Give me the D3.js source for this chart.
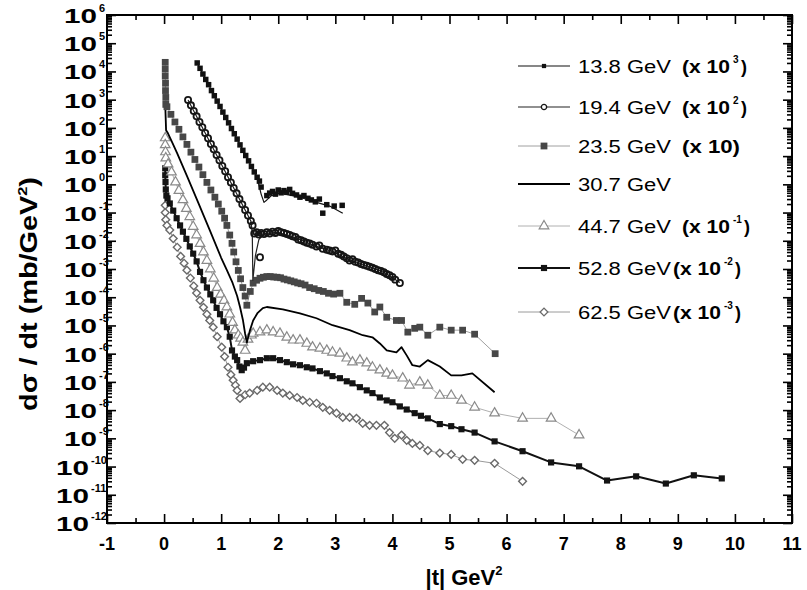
<!DOCTYPE html>
<html><head><meta charset="utf-8">
<script src="https://cdn.jsdelivr.net/npm/d3@7"></script>
<style>body{margin:0;background:#fff}</style>
</head><body>
<svg id="c" width="807" height="590"></svg>
<script>
// ---------- DATA ----------
const xTicks = [-1,0,1,2,3,4,5,6,7,8,9,10,11];
const yExponents = [6,5,4,3,2,1,0,-1,-2,-3,-4,-5,-6,-7,-8,-9,-10,-11,-12];

const legendNames = ["13.8 GeV","19.4 GeV","23.5 GeV","30.7 GeV","44.7 GeV","52.8 GeV","62.5 GeV"];
const legendFactors = ["(x 10","(x 10","(x 10)","","(x 10","(x 10","(x 10"];
const legendExps = ["3","2","","","-1","-2","-3"];

// 13.8 GeV (x10^3) points
const s138 = [[0.58,2.0e4],[0.63,1.29e4],[0.68,8.1e3],[0.73,5.2e3],[0.78,3.4e3],[0.83,2.1e3],[0.88,1.38e3],[0.93,890],[0.98,575],[1.03,363],[1.08,234],[1.13,151],[1.18,95],[1.23,62],[1.28,40],[1.33,25],[1.38,16],[1.43,10.5],[1.48,6.8],[1.53,4.3],[1.58,2.75],[1.63,1.78],[1.67,1.3],[1.70,0.8],[1.80,0.4],[1.85,0.49],[1.90,0.56],[1.95,0.45],[2.00,0.63],[2.05,0.5],[2.10,0.6],[2.15,0.52],[2.20,0.66],[2.25,0.48],[2.32,0.42],[2.38,0.35],[2.45,0.4],[2.52,0.32],[2.58,0.28],[2.65,0.24],[2.72,0.3],[2.78,0.095],[2.85,0.19],[2.98,0.17],[3.12,0.18]];
const s138Fit = [[0.58,2.0e4],[1.63,1.78],[1.70,0.45],[1.75,0.23],[1.80,0.28],[1.88,0.4],[2.03,0.49],[2.38,0.35],[2.67,0.23],[2.9,0.17],[3.13,0.095]];

// 19.4 GeV (x10^2)
const s194 = [[0.42,980],[0.47,630],[0.52,400],[0.57,257],[0.62,162],[0.67,105],[0.72,66],[0.77,43],[0.82,27],[0.87,17.4],[0.92,11],[0.97,7.1],[1.02,4.5],[1.07,2.9],[1.12,1.8],[1.17,1.17],[1.22,0.74],[1.27,0.48],[1.32,0.30],[1.37,0.195],[1.42,0.123],[1.47,0.079],[1.52,0.05],[1.55,0.035],[1.58,0.018],[1.62,0.02],[1.66,0.0166],[1.68,0.0026],[1.70,0.019],[1.75,0.0174],[1.80,0.02],[1.85,0.018],[1.90,0.021],[1.95,0.019],[2.00,0.022],[2.05,0.02],[2.10,0.019],[2.15,0.0174],[2.20,0.016],[2.25,0.0145],[2.30,0.0135],[2.35,0.011],[2.40,0.0105],[2.45,0.0095],[2.50,0.0085],[2.55,0.008],[2.60,0.0072],[2.67,0.0063],[2.72,0.0068],[2.78,0.0052],[2.85,0.0048],[2.90,0.0045],[2.95,0.0042],[3.00,0.0045],[3.05,0.0035],[3.10,0.0032],[3.15,0.0028],[3.20,0.0024],[3.25,0.002],[3.30,0.0022],[3.35,0.0018],[3.40,0.0017],[3.45,0.0015],[3.50,0.0014],[3.55,0.0013],[3.60,0.0012],[3.65,0.0011],[3.70,0.001],[3.75,9e-4],[3.80,8.5e-4],[3.85,7.6e-4],[3.90,6.6e-4],[3.95,6.0e-4],[4.00,5.2e-4],[4.05,4.2e-4],[4.13,3.2e-4]];
const s194Fit = [[0.42,980],[1.52,0.05],[1.545,0.02],[1.555,4e-4],[1.60,3e-3],[1.66,0.011],[1.75,0.018],[2.0,0.02],[2.38,0.011],[2.67,0.0063],[2.95,0.0042],[3.25,0.0021],[3.55,0.0013],[3.85,7.6e-4],[4.13,3.3e-4]];

// 23.5 GeV (x10)
const s235 = [[0.02,2.1e4],[0.02,1.2e4],[0.02,6.8e3],[0.025,3.8e3],[0.025,2.1e3],[0.03,1.2e3],[0.03,680],[0.05,562],[0.12,302],[0.19,162],[0.26,89],[0.33,48],[0.40,26],[0.47,13.8],[0.54,7.6],[0.61,4.1],[0.68,2.2],[0.75,1.17],[0.82,0.63],[0.89,0.35],[0.95,0.2],[1.01,0.112],[1.06,0.063],[1.10,0.035],[1.15,0.016],[1.19,0.0081],[1.22,0.004],[1.26,0.0018],[1.30,8.9e-4],[1.34,4.5e-4],[1.38,2.2e-4],[1.42,1.1e-4],[1.45,5.2e-5],[1.51,1.6e-4],[1.56,3.16e-4],[1.62,4.0e-4],[1.68,4.7e-4],[1.74,5.1e-4],[1.80,5.4e-4],[1.86,5.4e-4],[1.92,5.2e-4],[1.98,5.1e-4],[2.04,4.9e-4],[2.10,4.4e-4],[2.16,4.1e-4],[2.22,3.8e-4],[2.28,3.5e-4],[2.34,3.2e-4],[2.40,3.0e-4],[2.47,2.7e-4],[2.55,2.2e-4],[2.63,2.0e-4],[2.71,1.74e-4],[2.79,1.6e-4],[2.88,1.38e-4],[2.97,1.29e-4],[3.08,1.38e-4],[3.20,6.6e-5],[3.34,5.6e-5],[3.46,9.1e-5],[3.57,6.2e-5],[3.69,3.0e-5],[3.78,4.5e-5],[3.90,1.95e-5],[4.07,1.5e-5],[4.16,1.5e-5],[4.27,5.8e-6],[4.39,7.9e-6],[4.48,8.7e-6],[4.62,4.5e-6],[4.83,8.7e-6],[5.03,6.8e-6],[5.23,6.8e-6],[5.44,4.9e-6],[5.80,1.0e-6]];

// 30.7 GeV
const s307 = [[0.02,710],[0.035,83],[0.07,63],[0.15,28],[0.23,12.6],[0.4,2.0],[0.6,0.22],[0.8,0.024],[1.0,2.5e-3],[1.1,9.1e-4],[1.2,3.2e-4],[1.28,1.1e-4],[1.33,4.5e-5],[1.38,1.6e-5],[1.42,5e-6],[1.45,2.5e-6],[1.50,6.3e-6],[1.56,1.5e-5],[1.64,2.8e-5],[1.73,4.1e-5],[1.80,4.5e-5],[2.08,3.7e-5],[2.38,2.7e-5],[2.67,1.8e-5],[2.95,1.02e-5],[3.25,6.8e-6],[3.48,4.5e-6],[3.65,3.8e-6],[3.78,2.3e-6],[3.90,1.3e-6],[4.07,1.12e-6],[4.16,1.7e-6],[4.25,8.7e-7],[4.35,3.9e-7],[4.48,3.5e-7],[4.62,5.9e-7],[4.83,3.5e-7],[5.03,1.7e-7],[5.21,1.7e-7],[5.40,2.0e-7],[5.79,4.3e-8]];

// 44.7 GeV (x10^-1)
const s447 = [[0.02,44],[0.02,25],[0.025,14],[0.03,8.5],[0.07,5.2],[0.13,2.7],[0.20,1.2],[0.26,0.6],[0.33,0.28],[0.39,0.138],[0.45,0.071],[0.51,0.032],[0.57,0.016],[0.63,7.9e-3],[0.69,4.0e-3],[0.75,2.0e-3],[0.81,1.0e-3],[0.87,4.7e-4],[0.93,2.2e-4],[0.99,1.26e-4],[1.05,7.6e-5],[1.10,4.5e-5],[1.15,2.5e-5],[1.20,1.26e-5],[1.24,6.8e-6],[1.30,4.5e-6],[1.34,3.5e-6],[1.38,2.5e-6],[1.42,1.3e-6],[1.47,3.2e-6],[1.53,4.5e-6],[1.56,5.2e-6],[1.68,5.8e-6],[1.80,6.8e-6],[1.91,5.8e-6],[2.03,5.2e-6],[2.15,3.8e-6],[2.26,3.0e-6],[2.38,3.0e-6],[2.50,2.3e-6],[2.60,1.7e-6],[2.73,1.55e-6],[2.85,1.3e-6],[2.95,1.12e-6],[3.08,1.02e-6],[3.20,6.9e-7],[3.30,5.0e-7],[3.43,5.9e-7],[3.55,4.6e-7],[3.65,3.3e-7],[3.78,2.6e-7],[3.90,2.0e-7],[4.00,1.7e-7],[4.18,1.35e-7],[4.30,7.6e-8],[4.48,9.8e-8],[4.62,7.6e-8],[4.83,3.3e-8],[5.03,3.3e-8],[5.21,2.2e-8],[5.44,1.26e-8],[5.79,7.8e-9],[6.28,5.1e-9],[6.78,5.1e-9],[7.27,1.3e-9]];

// 52.8 GeV (x10^-2)
const s528 = [[0.02,3.7],[0.02,2.1],[0.025,1.2],[0.03,0.66],[0.04,0.4],[0.06,0.32],[0.10,0.21],[0.16,0.117],[0.22,0.063],[0.28,0.035],[0.33,0.021],[0.39,0.0117],[0.45,6.3e-3],[0.51,3.5e-3],[0.57,1.86e-3],[0.63,7.9e-4],[0.69,4.0e-4],[0.75,2.2e-4],[0.81,1.26e-4],[0.86,7.8e-5],[0.92,4.2e-5],[0.98,2.5e-5],[1.04,1.4e-5],[1.10,8.7e-6],[1.15,4.0e-6],[1.19,1.3e-6],[1.24,7.9e-7],[1.28,5.9e-7],[1.32,3.5e-7],[1.36,2.6e-7],[1.40,3.2e-7],[1.45,4.6e-7],[1.56,5.4e-7],[1.68,5.9e-7],[1.80,6.9e-7],[1.91,6.9e-7],[2.03,5.9e-7],[2.15,5.0e-7],[2.26,4.2e-7],[2.38,3.9e-7],[2.50,3.3e-7],[2.60,3.0e-7],[2.73,2.4e-7],[2.85,2.0e-7],[2.95,1.6e-7],[3.08,1.35e-7],[3.20,1.05e-7],[3.30,8.9e-8],[3.43,6.5e-8],[3.55,5.0e-8],[3.65,4.0e-8],[3.78,2.8e-8],[3.90,2.2e-8],[4.00,1.9e-8],[4.13,1.35e-8],[4.25,1.05e-8],[4.39,7.8e-9],[4.50,6.3e-9],[4.62,5.1e-9],[4.83,3.2e-9],[5.03,2.7e-9],[5.21,2.1e-9],[5.44,1.6e-9],[5.79,7.8e-10],[6.28,3.5e-10],[6.78,1.4e-10],[7.27,1.02e-10],[7.76,3.2e-11],[8.27,4.5e-11],[8.79,2.5e-11],[9.28,4.9e-11],[9.77,3.8e-11]];

// 62.5 GeV (x10^-3)
const s625 = [[0.02,0.18],[0.02,0.1],[0.03,0.056],[0.05,0.035],[0.10,0.024],[0.16,0.012],[0.23,5.9e-3],[0.29,2.8e-3],[0.35,1.6e-3],[0.40,9.1e-4],[0.46,4.8e-4],[0.52,2.5e-4],[0.57,1.4e-4],[0.63,7.8e-5],[0.69,4.4e-5],[0.75,2.5e-5],[0.80,1.5e-5],[0.86,8.7e-6],[0.93,4.0e-6],[1.01,1.7e-6],[1.06,7.9e-7],[1.12,3.3e-7],[1.17,1.8e-7],[1.21,1.15e-7],[1.25,7.6e-8],[1.28,5.0e-8],[1.33,2.6e-8],[1.42,3.5e-8],[1.50,4.0e-8],[1.63,5.0e-8],[1.73,6.5e-8],[1.85,6.5e-8],[1.98,5.0e-8],[2.08,4.0e-8],[2.20,3.3e-8],[2.33,2.8e-8],[2.43,2.2e-8],[2.55,1.9e-8],[2.67,1.75e-8],[2.78,1.26e-8],[2.90,9.8e-9],[3.02,7.8e-9],[3.13,5.5e-9],[3.25,5.5e-9],[3.37,5.1e-9],[3.48,3.4e-9],[3.60,2.9e-9],[3.72,2.9e-9],[3.86,2.9e-9],[3.95,1.6e-9],[4.04,1.0e-9],[4.16,1.3e-9],[4.25,8.5e-10],[4.35,6.6e-10],[4.48,5.6e-10],[4.62,3.7e-10],[4.83,3.0e-10],[5.03,2.7e-10],[5.23,1.8e-10],[5.44,1.66e-10],[5.79,1.3e-10],[6.28,3.0e-11]];

// ---------- CHART ----------
const L = 107, R = 792, T = 15, B = 523;
const FONT = "'Liberation Sans', Arial, sans-serif";
const x = d3.scaleLinear().domain([-1, 11]).range([L, R]);
const y = d3.scaleLog().domain([1e-12, 1e6]).range([B, T]);
const svg = d3.select('#c');
svg.append('rect').attr('width',807).attr('height',590).attr('fill','#fff');

const clipId = 'plotclip';
svg.append('clipPath').attr('id', clipId).append('rect').attr('x',L).attr('y',T).attr('width',R-L).attr('height',B-T);
const plot = svg.append('g').attr('clip-path', `url(#${clipId})`);

const line = d3.line().x(d => x(d[0])).y(d => y(d[1]));

const sym = {
  square: (s) => d3.symbol().type(d3.symbolSquare).size(s)(),
  circle: (s) => d3.symbol().type(d3.symbolCircle).size(s)(),
  triangle: (s) => d3.symbol().type(d3.symbolTriangle).size(s)(),
  diamond: (s) => d3.symbol().type(d3.symbolSquare).size(s)()
};

const series = [
  {data: s625, lineColor:'#9a9a9a', lineW:1, marker:'diamond', size:30, rot:45, fill:'#fff', stroke:'#6a6a6a', sw:1.4},
  {data: s528, lineColor:'#111', lineW:2, marker:'square', size:38, fill:'#141414', stroke:'none', sw:0},
  {data: s447, lineColor:'#b0b0b0', lineW:1, marker:'triangle', size:40, fill:'#fff', stroke:'#8a8a8a', sw:1.2},
  {data: s307, lineColor:'#000', lineW:1.8, marker:null},
  {data: s235, lineColor:'#a0a0a0', lineW:1, marker:'square', size:46, fill:'#474747', stroke:'none', sw:0},
  {data: s194, fit: s194Fit, lineColor:'#222', lineW:1.2, marker:'circle', size:30, fill:'none', stroke:'#151515', sw:1.8},
  {data: s138, fit: s138Fit, lineColor:'#111', lineW:1.2, marker:'square', size:30, fill:'#111', stroke:'none', sw:0}
];

series.forEach(s => {
  const lineData = s.fit ? s.fit : s.data;
  plot.append('path').datum(lineData).attr('d', line)
    .attr('fill','none').attr('stroke', s.lineColor).attr('stroke-width', s.lineW).attr('stroke-linejoin','round');
  if (s.marker) {
    plot.append('g').selectAll('path').data(s.data).join('path')
      .attr('d', sym[s.marker](s.size))
      .attr('transform', d => `translate(${x(d[0])},${y(d[1])})` + (s.rot ? ` rotate(${s.rot})` : ''))
      .attr('fill', s.fill).attr('stroke', s.stroke).attr('stroke-width', s.sw);
  }
});

// ---------- AXES ----------
const noDomain = g => g.select('.domain').remove();
const minorX = d3.range(-0.5, 11, 1);
const majorY = yExponents.map(e => Math.pow(10, e));
const minorY = [];
for (let e = -12; e < 6; e++) for (let m = 2; m <= 9; m++) minorY.push(m * Math.pow(10, e));

function styleTicks(g){ g.selectAll('line').attr('stroke','#000').attr('stroke-width',1.6); }

svg.append('g').attr('transform',`translate(0,${B})`)
  .call(d3.axisBottom(x).tickValues(xTicks).tickSize(-9).tickFormat('')).call(noDomain).call(styleTicks);
svg.append('g').attr('transform',`translate(0,${B})`)
  .call(d3.axisBottom(x).tickValues(minorX).tickSize(-5).tickFormat('')).call(noDomain).call(styleTicks);
svg.append('g').attr('transform',`translate(0,${T})`)
  .call(d3.axisTop(x).tickValues(xTicks).tickSize(-9).tickFormat('')).call(noDomain).call(styleTicks);
svg.append('g').attr('transform',`translate(0,${T})`)
  .call(d3.axisTop(x).tickValues(minorX).tickSize(-5).tickFormat('')).call(noDomain).call(styleTicks);
svg.append('g').attr('transform',`translate(${L},0)`)
  .call(d3.axisLeft(y).tickValues(majorY).tickSize(-9).tickFormat('')).call(noDomain).call(styleTicks);
svg.append('g').attr('transform',`translate(${L},0)`)
  .call(d3.axisLeft(y).tickValues(minorY).tickSize(-5).tickFormat('')).call(noDomain).call(styleTicks);
svg.append('g').attr('transform',`translate(${R},0)`)
  .call(d3.axisRight(y).tickValues(majorY).tickSize(-9).tickFormat('')).call(noDomain).call(styleTicks);
svg.append('g').attr('transform',`translate(${R},0)`)
  .call(d3.axisRight(y).tickValues(minorY).tickSize(-5).tickFormat('')).call(noDomain).call(styleTicks);

svg.append('rect').attr('x',L).attr('y',T).attr('width',R-L).attr('height',B-T)
  .attr('fill','none').attr('stroke','#000').attr('stroke-width',2);

// x tick labels
svg.append('g').selectAll('text').data(xTicks).join('text')
  .attr('x', d => x(d)).attr('y', B + 27).attr('text-anchor','middle')
  .attr('font-family', FONT).attr('font-weight','bold').attr('font-size', 18)
  .text(d => String(d));

// y tick labels
const yl = svg.append('g').attr('font-family', FONT).attr('font-weight','bold').attr('fill','#000');
yExponents.forEach(e => {
  const ys = y(Math.pow(10, e));
  const es = String(e);
  const right = es.length >= 3 ? 89 : 97;
  yl.append('text').attr('x', right).attr('y', ys + 8).attr('text-anchor','end')
    .attr('font-size', 21).attr('textLength', 33).attr('lengthAdjust','spacingAndGlyphs').text('10');
  yl.append('text').attr('x', right + 2).attr('y', ys - 3).attr('text-anchor','start')
    .attr('font-size', 11).text(es);
});

// axis titles
const xt = svg.append('text').attr('x', 464).attr('y', 585).attr('text-anchor','middle')
  .attr('font-family', FONT).attr('font-weight','bold').attr('font-size', 22);
xt.append('tspan').text('|t| GeV');
xt.append('tspan').attr('font-size', 13).attr('dy', -10).text('2');

const yt = svg.append('text').attr('transform','translate(37,294) rotate(-90)').attr('text-anchor','middle')
  .attr('font-family', FONT).attr('font-weight','bold').attr('font-size', 23)
  .attr('textLength', 234).attr('lengthAdjust','spacingAndGlyphs');
yt.append('tspan').text('dσ / dt  (mb/GeV');
yt.append('tspan').attr('font-size', 13).attr('dy', -10).text('2');
yt.append('tspan').attr('dy', 10).text(')');

// ---------- LEGEND ----------
const legY = [66, 107, 146, 184, 226, 268, 312];
const legOrder = [6, 5, 4, 3, 2, 1, 0]; // series index for each legend row
const lg = svg.append('g');
legendNames.forEach((name, i) => {
  const s = series[legOrder[i]];
  const cy = legY[i];
  lg.append('line').attr('x1', 518).attr('x2', 570).attr('y1', cy).attr('y2', cy)
    .attr('stroke', s.lineColor).attr('stroke-width', Math.max(1, s.lineW));
  if (s.marker) {
    const msz = (legOrder[i] === 6) ? 18 : (legOrder[i] === 5 ? 22 : s.size);
    lg.append('path').attr('d', sym[s.marker](msz))
      .attr('transform', `translate(544,${cy})` + (s.rot ? ` rotate(${s.rot})` : ''))
      .attr('fill', s.fill === 'none' ? '#fff' : s.fill).attr('stroke', s.stroke).attr('stroke-width', Math.min(s.sw, 1.3));
  }
  lg.append('text').attr('x', 578).attr('y', cy + 7).attr('font-family', FONT).attr('font-size', 18)
    .attr('textLength', 93).attr('lengthAdjust','spacingAndGlyphs').text(name);
  const f = legendFactors[i];
  if (f) {
    const fx = (i >= 5) ? 673 : 682;
    const isClosed = f.endsWith(')');
    lg.append('text').attr('x', fx).attr('y', cy + 7).attr('font-family', FONT).attr('font-weight','bold')
      .attr('font-size', 18).attr('textLength', isClosed ? 58 : 48).attr('lengthAdjust','spacingAndGlyphs').text(f);
    const ex = legendExps[i];
    if (ex) {
      const exX = fx + 51;
      lg.append('text').attr('x', exX).attr('y', cy - 3).attr('font-family', FONT).attr('font-weight','bold')
        .attr('font-size', 10).text(ex);
      lg.append('text').attr('x', exX + (ex.length > 1 ? 11 : 8)).attr('y', cy + 7).attr('font-family', FONT).attr('font-weight','bold')
        .attr('font-size', 18).text(')');
    }
  }
});
</script>
</body></html>
